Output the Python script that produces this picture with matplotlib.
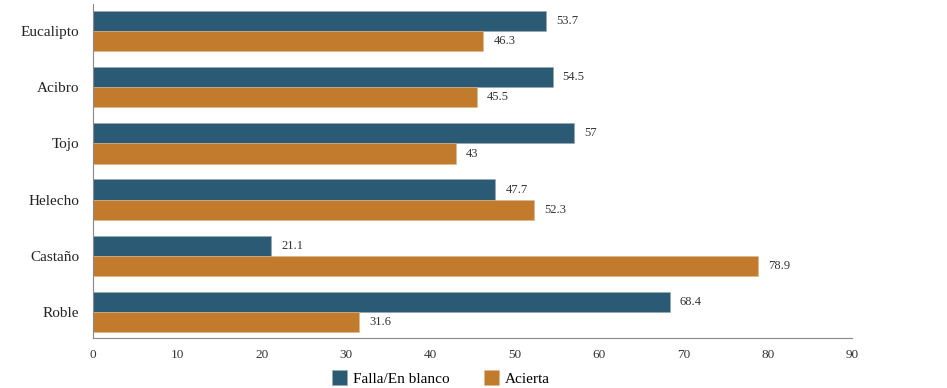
import numpy as np
import matplotlib
matplotlib.use("Agg")
import matplotlib.pyplot as plt

plt.rcParams['font.family'] = ['Liberation Serif', 'DejaVu Serif']

categories = ["Eucalipto", "Acibro", "Tojo", "Helecho", "Castaño", "Roble"]
falla = [53.7, 54.5, 57, 47.7, 21.1, 68.4]
acierta = [46.3, 45.5, 43, 52.3, 78.9, 31.6]
falla_labels = ["53.7", "54.5", "57", "47.7", "21.1", "68.4"]
acierta_labels = ["46.3", "45.5", "43", "52.3", "78.9", "31.6"]

blue = "#2b5a74"
orange = "#c27b2c"

fig = plt.figure(figsize=(9.47, 3.88), dpi=100)
ax = fig.add_axes([93 / 947, 50 / 388, (852 - 93) / 947, (338 - 4) / 388])

y = np.arange(len(categories))[::-1]
h = 0.36
b1 = ax.barh(y + h / 2, falla, height=h, color=blue, edgecolor="#9aa6ad", linewidth=0.4,
             label="Falla/En blanco")
b2 = ax.barh(y - h / 2, acierta, height=h, color=orange, edgecolor="#d9b88f", linewidth=0.4,
             label="Acierta")

for bar, txt in zip(b1, falla_labels):
    ax.text(bar.get_width() + 1.2, bar.get_y() + bar.get_height() / 2, txt,
            va="center", ha="left", fontsize=9, color="#333333")
for bar, txt in zip(b2, acierta_labels):
    ax.text(bar.get_width() + 1.2, bar.get_y() + bar.get_height() / 2, txt,
            va="center", ha="left", fontsize=9, color="#333333")

ax.set_xlim(0, 90)
ax.set_ylim(-0.46, 5.48)
ax.set_xticks(np.arange(0, 91, 10))
ax.set_yticks(y)
ax.set_yticklabels(categories, fontsize=11, color="#222222")
ax.tick_params(axis="x", labelsize=9.5, colors="#333333", length=0, pad=8)
ax.tick_params(axis="y", length=0, pad=10)

for s in ["top", "right"]:
    ax.spines[s].set_visible(False)
for s in ["left", "bottom"]:
    ax.spines[s].set_color("#888888")
    ax.spines[s].set_linewidth(0.8)

fig.legend(handles=[b1, b2], loc="center", bbox_to_anchor=(441 / 947, 1 - 378 / 388),
           ncol=2, frameon=False, fontsize=11, handlelength=1.0, handleheight=1.1,
           handletextpad=0.4, columnspacing=2.2)

fig.savefig("out.png", dpi=100)
